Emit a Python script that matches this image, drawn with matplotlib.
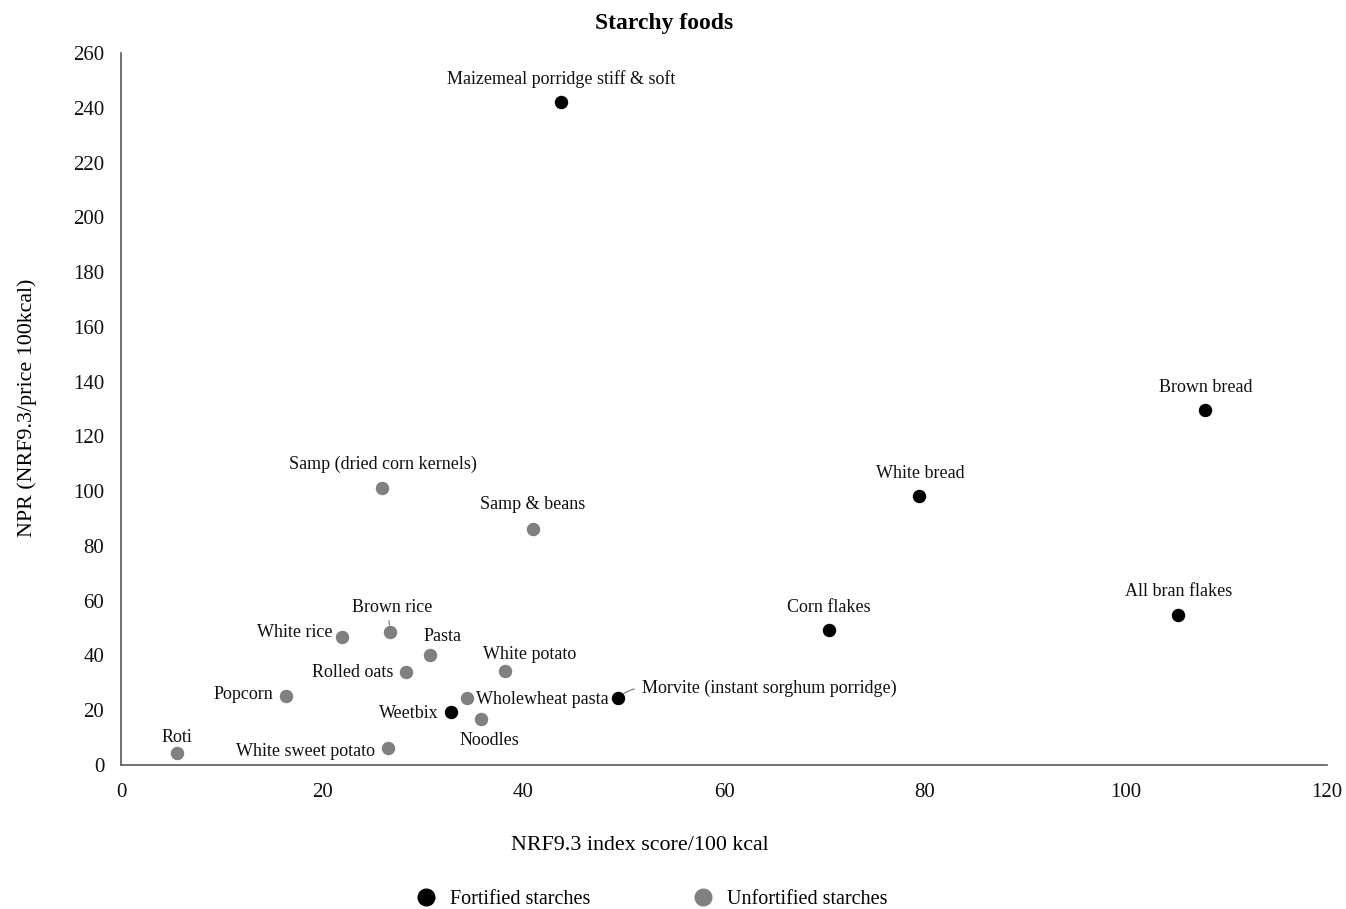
import matplotlib.pyplot as plt
from matplotlib.lines import Line2D

plt.rcParams['font.family'] = ['Liberation Serif', 'DejaVu Serif']

# Fortified starches
fort_names = ["Maizemeal porridge stiff & soft", "Brown bread", "White bread",
              "All bran flakes", "Corn flakes", "Morvite (instant sorghum porridge)",
              "Weetbix"]
fort_x = [43.8, 107.9, 79.4, 105.2, 70.4, 49.5, 32.8]
fort_y = [242.0, 129.6, 98.2, 54.8, 49.3, 24.5, 19.4]

# Unfortified starches
unf_names = ["Samp (dried corn kernels)", "Samp & beans", "White rice", "Brown rice",
             "Pasta", "Rolled oats", "White potato", "Popcorn", "Wholewheat pasta",
             "Noodles", "White sweet potato", "Roti"]
unf_x = [26.0, 41.0, 22.0, 26.8, 30.7, 28.4, 38.2, 16.4, 34.4, 35.8, 26.6, 5.6]
unf_y = [101.2, 86.2, 46.7, 48.6, 40.2, 34.0, 34.3, 25.2, 24.5, 16.8, 6.2, 4.4]

# label placement (offset in pixels, horizontal alignment)
label_pos = {
    "Maizemeal porridge stiff & soft": (0, 23, "center"),
    "Brown bread": (0, 23, "center"),
    "White bread": (1, 23, "center"),
    "All bran flakes": (0, 23, "center"),
    "Corn flakes": (0, 23, "center"),
    "Morvite (instant sorghum porridge)": (24, 10, "left"),
    "Weetbix": (-12, -2, "right"),
    "Samp (dried corn kernels)": (1, 24, "center"),
    "Samp & beans": (0, 24, "center"),
    "White rice": (-10, 5, "right"),
    "Brown rice": (2, 24, "center"),
    "Pasta": (13, 18, "center"),
    "Rolled oats": (-13, -1, "right"),
    "White potato": (25, 17, "center"),
    "Popcorn": (-13, 2, "right"),
    "Wholewheat pasta": (9, -2, "left"),
    "Noodles": (9, -21, "center"),
    "White sweet potato": (-13, -3, "right"),
    "Roti": (0, 15, "center"),
}
leaders = {
    "Morvite (instant sorghum porridge)": dict(relpos=(0, 0.5), shrinkA=4, shrinkB=5,
                                               connectionstyle="arc3,rad=0.2"),
    "Brown rice": dict(relpos=(0.45, 0), shrinkA=1, shrinkB=5),
}

fig = plt.figure(figsize=(13.46, 9.09), dpi=100)
ax = fig.add_axes([0.0899, 0.1584, 0.896, 0.7833])

ax.scatter(fort_x, fort_y, s=75, color="black", zorder=3)
ax.scatter(unf_x, unf_y, s=75, color="#808080", zorder=3)

for names, xs, ys in [(fort_names, fort_x, fort_y), (unf_names, unf_x, unf_y)]:
    for n, x, y in zip(names, xs, ys):
        dx, dy, ha = label_pos[n]
        kw = {}
        if n in leaders:
            kw["arrowprops"] = dict(arrowstyle="-", color="#707070", lw=0.8, **leaders[n])
        ax.annotate(n, (x, y), xytext=(dx, dy), textcoords="offset pixels",
                    ha=ha, va="center", fontsize=13, color="#111111", **kw)

ax.set_xlim(0, 120)
ax.set_ylim(0, 260)
ax.set_xticks(range(0, 121, 20))
ax.set_yticks(range(0, 261, 20))
ax.tick_params(length=0, labelsize=15, colors="#111111")
ax.tick_params(axis="x", pad=13)
ax.tick_params(axis="y", pad=12)
for s in ["top", "right"]:
    ax.spines[s].set_visible(False)
for s in ["left", "bottom"]:
    ax.spines[s].set_color("#595959")
    ax.spines[s].set_linewidth(1.2)

fig.text(0.4934, 0.974, "Starchy foods", ha="center", va="center",
         fontsize=17, fontweight="bold")
fig.text(0.4755, 0.0704, "NRF9.3 index score/100 kcal", ha="center", va="center",
         fontsize=15.8)
fig.text(0.0205, 0.551, "NPR (NRF9.3/price 100kcal)", ha="center", va="center",
         rotation=90, fontsize=15.8)

handles = [Line2D([], [], ls="", marker="o", ms=12, color="black"),
           Line2D([], [], ls="", marker="o", ms=12, color="#808080")]
fig.legend(handles, ["Fortified starches", "Unfortified starches"],
           loc="center", bbox_to_anchor=(0.4805, 0.0105), ncol=2, frameon=False,
           fontsize=14.5, columnspacing=4.6, handletextpad=0.2)

fig.savefig("out.png", dpi=100)
